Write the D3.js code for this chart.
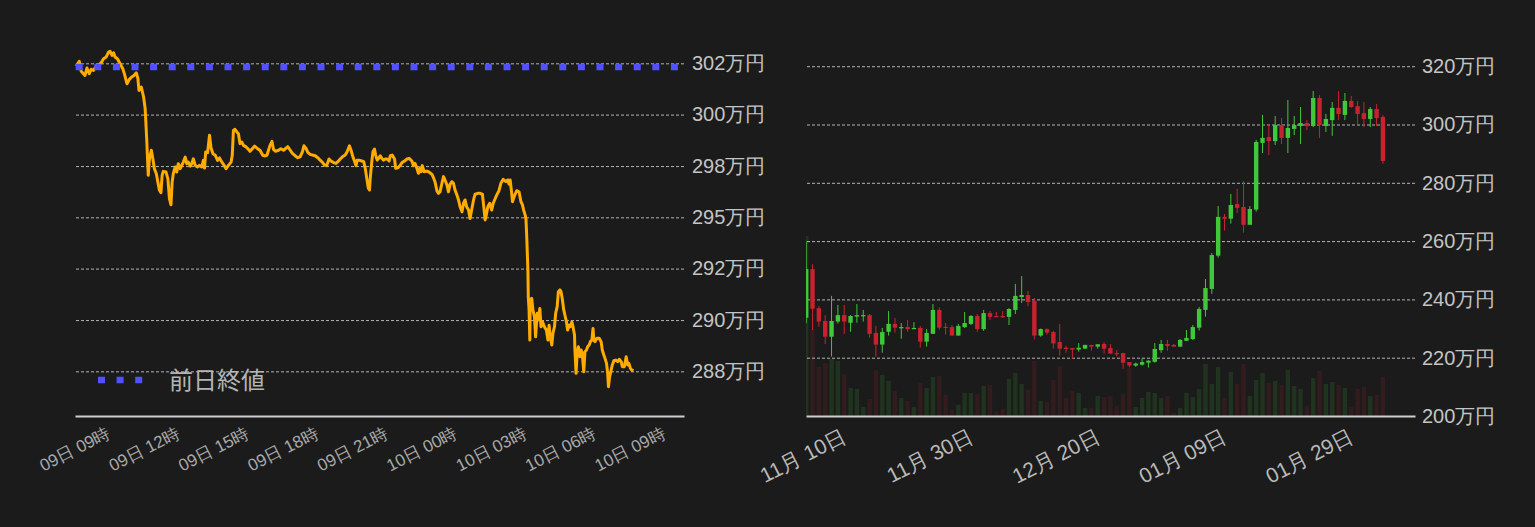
<!DOCTYPE html>
<html>
<head>
<meta charset="utf-8">
<script src="https://cdn.jsdelivr.net/npm/d3@7"></script>
<style>
  html, body { margin: 0; background: #1b1b1b; }
  svg { display: block; font-family: "Noto Sans CJK JP", "Noto Sans", sans-serif; }
</style>
</head>
<body>
<script>
// ---- intraday (left): minutes since 09日 00:00, price in 万円
const lineMinutes = [
  457,465,470,480,485,491,496,502,509,515,522,528,535,541,545,550,554,558,564,571,
  578,582,589,595,601,607,613,617,620,626,632,636,640,644,647,652,656,660,665,669,
  673,677,680,683,690,695,699,703,706,709,714,718,722,727,731,735,740,744,748,753,
  757,761,766,772,777,783,787,790,793,798,803,807,812,818,824,829,835,841,846,852,
  859,862,865,869,874,878,882,887,891,898,904,908,914,920,926,930,934,941,947,952,
  956,960,965,969,974,982,988,995,1002,1006,1012,1018,1025,1032,1038,1044,1048,1053,1058,1064,
  1070,1077,1084,1090,1096,1101,1107,1113,1118,1124,1131,1136,1142,1148,1155,1160,1166,1170,1175,1179,
  1183,1186,1191,1198,1203,1207,1211,1215,1218,1220,1224,1227,1231,1234,1238,1242,1246,1250,1254,1259,
  1264,1269,1272,1277,1283,1286,1292,1297,1303,1309,1315,1321,1328,1332,1336,1341,1345,1349,1352,1355,
  1360,1367,1373,1380,1384,1388,1393,1397,1401,1406,1410,1414,1419,1423,1427,1432,1436,1440,1445,1449,
  1453,1458,1462,1466,1470,1475,1479,1483,1488,1492,1499,1505,1511,1515,1518,1521,1525,1530,1535,1539,
  1548,1554,1559,1565,1572,1577,1580,1583,1587,1589,1594,1600,1606,1611,1615,1618,1622,1624,1626,1629,
  1630,1632,1634,1635,1639,1642,1646,1649,1653,1656,1660,1663,1667,1670,1674,1677,1681,1684,1687,1691,
  1694,1698,1701,1705,1708,1712,1715,1718,1722,1725,1729,1732,1736,1739,1743,1746,1750,1751,1754,1757,
  1760,1764,1767,1770,1774,1777,1781,1784,1788,1791,1795,1798,1800,1803,1808,1814,1819,1822,1826,1829,
  1833,1836,1838,1841,1845,1848,1852,1857,1862,1866,1871,1874,1879,1884,1888,1891,1895,1898,1903
]
const linePrices = [
  301.88,302.09,301.64,301.45,301.79,301.53,301.73,301.68,301.88,301.91,302.03,302.21,302.29,302.51,302.55,302.36,302.48,302.29,302.21,301.98,
  301.75,301.53,301.07,301.27,301.38,301.45,301.57,301.33,300.77,300.92,300.47,299.94,298.57,296.91,297.66,298.05,297.66,297.21,296.98,296.60,
  296.23,296.12,296.91,297.09,297.06,296.75,295.85,295.57,296.60,296.98,297.29,297.06,297.44,297.21,297.36,297.51,297.74,297.44,297.51,297.33,
  297.44,297.66,297.36,297.29,297.36,297.29,297.59,297.24,297.97,297.94,298.73,298.15,297.89,297.82,297.59,297.70,297.51,297.36,297.21,297.36,
  297.51,297.82,298.95,299.00,298.88,298.80,298.35,298.42,298.27,298.20,298.09,298.00,298.12,298.24,298.15,298.09,298.05,297.82,297.79,297.82,
  298.05,298.27,298.45,298.09,298.00,298.05,298.12,298.05,298.15,298.21,298.06,297.91,297.80,297.71,297.75,297.98,298.25,298.14,297.95,297.86,
  297.83,297.80,297.71,297.60,297.50,297.38,297.35,297.65,297.56,297.50,297.45,297.53,297.65,297.75,297.83,297.98,298.25,298.06,297.75,297.56,
  297.35,297.60,297.60,297.56,297.53,297.23,296.77,296.32,296.24,296.77,297.53,297.98,298.10,297.83,297.60,297.68,297.80,297.68,297.60,297.65,
  297.65,297.56,297.80,297.83,297.65,297.23,297.25,297.35,297.50,297.56,297.65,297.68,297.56,297.35,297.45,297.23,297.00,297.25,297.07,297.35,
  297.07,297.10,297.05,296.95,296.80,296.62,296.20,296.09,296.16,296.55,296.85,296.70,296.47,296.16,296.50,296.62,296.55,296.24,296.01,295.79,
  295.48,295.25,295.64,295.79,295.48,295.33,294.95,295.33,295.79,296.05,296.09,296.09,296.05,295.41,294.88,295.10,295.48,295.64,295.33,295.64,
  296.01,296.21,296.55,296.73,296.62,296.70,296.51,296.70,296.09,295.71,295.97,296.21,296.16,295.71,295.56,295.33,295.10,294.91,294.12,292.60,
  291.39,290.79,289.42,291.24,291.32,290.79,290.48,289.57,290.64,290.33,290.86,290.03,290.25,290.10,289.95,289.88,289.42,290.10,289.57,289.20,
  289.73,290.03,290.64,290.94,291.62,291.70,291.62,291.32,290.79,290.56,290.25,289.88,290.10,290.03,290.25,290.03,289.65,288.97,287.91,288.89,
  289.12,288.66,288.97,288.82,287.98,288.89,288.97,289.12,289.20,289.35,289.42,289.95,289.42,289.35,289.50,289.50,289.35,288.97,288.74,288.59,
  288.36,287.91,287.30,287.75,288.06,288.29,288.48,288.51,288.44,288.55,288.44,288.21,288.21,288.66,288.29,288.36,288.14,288.06,288.03
]
const prevClose = 301.83
const lineTicks = [288, 290.33, 292.67, 295, 297.33, 299.67, 302]
const lineTickLabels = ["288万円", "290万円", "292万円", "295万円", "298万円", "300万円", "302万円"]
const legendLabel = "前日終値"

// ---- daily candles (right): first candle 11/04, one per day, 万円
const candleOpen = [
  233.7,250.4,237.0,232.6,227.2,232.4,234.6,232.0,234.1,234.4,234.6,228.5,224.5,228.9,231.6,230.3,230.5,230.0,230.2,225.5,
  228.2,236.4,230.6,230.5,227.6,230.5,231.6,234.3,229.8,235.3,234.3,234.3,234.0,236.4,240.8,241.5,239.5,227.6,229.8,228.8,
  225.4,223.4,223.3,222.8,223.1,224.4,223.8,224.7,223.3,221.6,221.6,218.5,217.3,217.6,218.3,218.6,222.6,224.7,224.4,223.8,
  225.8,226.4,230.3,236.4,243.6,255.0,268.3,267.7,272.7,271.7,265.6,270.8,293.7,295.7,294.3,299.8,295.4,298.5,299.5,300.5,
  299.5,309.1,299.5,301.5,305.7,303.3,308.1,306.3,303.9,301.9,305.3,302.6
]
const candleHigh = [
  259.9,252.1,237.7,234.6,241.2,238.1,238.1,234.6,238.4,236.4,235.0,230.9,230.2,236.0,233.6,231.9,232.9,232.2,230.9,229.8,
  238.4,237.3,231.9,231.2,231.6,235.7,234.6,235.0,236.4,236.0,235.7,236.0,237.0,245.3,248.0,242.9,240.5,230.0,230.0,229.2,
  231.6,224.0,223.3,225.0,224.4,224.4,224.6,225.4,224.7,222.6,221.6,218.5,218.3,219.7,219.0,225.0,226.1,226.1,224.7,226.4,
  229.5,231.2,237.4,247.0,255.9,272.0,269.3,276.2,277.9,280.6,272.0,294.7,303.3,300.2,302.9,302.2,308.4,302.9,306.0,301.5,
  311.5,310.1,303.6,307.7,311.5,310.8,309.8,308.1,307.7,306.0,307.0,303.3
]
const candleLow = [
  231.8,229.5,230.6,224.7,220.4,231.7,228.1,228.9,232.0,232.4,226.9,220.4,221.7,227.6,228.6,226.5,228.9,229.8,223.4,223.8,
  228.2,229.6,227.9,227.6,227.6,230.2,231.2,228.9,229.2,232.9,234.0,233.6,231.2,235.0,238.8,237.7,226.2,227.2,227.9,223.1,
  220.7,221.7,219.7,222.1,223.1,222.4,223.1,221.4,221.4,220.4,216.2,216.7,216.9,217.3,216.6,218.3,221.7,222.4,223.8,223.8,
  225.8,226.1,229.3,234.1,241.9,254.3,263.6,266.0,269.6,262.9,265.6,270.1,290.2,289.5,293.0,293.3,290.2,296.4,293.3,298.1,
  299.1,295.4,297.4,296.1,301.5,301.5,305.7,300.2,299.1,299.1,299.5,286.5
]
const candleClose = [
  250.4,236.8,232.4,227.2,232.6,234.6,232.4,234.3,234.6,234.6,228.2,224.5,228.8,231.6,230.3,230.5,229.8,230.2,225.5,228.5,
  236.4,230.3,230.3,227.6,230.9,231.9,234.3,229.8,235.3,234.0,234.1,234.1,236.7,241.2,241.5,239.1,227.6,229.8,228.6,224.9,
  223.1,223.2,222.8,223.4,224.4,223.8,224.6,223.1,221.4,221.4,218.3,217.3,218.0,218.5,219.0,223.0,224.7,224.0,223.8,226.1,
  226.8,230.5,236.7,243.9,255.2,268.3,267.7,272.4,271.4,265.6,271.0,294.0,295.4,294.3,299.8,295.4,298.8,299.8,300.5,299.5,
  309.1,299.8,301.9,305.7,303.6,308.1,306.0,303.6,301.9,305.3,302.2,287.5
]
const volumes = [
  180,87,49,53,57,55,42,28,27,9,17,46,41,35,25,18,15,9,33,28,
  39,40,21,6,11,23,23,22,30,31,4,7,37,43,32,26,55,15,14,36,
  50,18,25,23,8,8,20,19,20,10,22,48,9,18,24,23,18,20,3,8,
  23,19,27,52,32,49,18,44,32,52,20,36,43,33,35,31,46,30,27,10,
  38,45,32,34,31,28,9,27,29,20,21,39
]
const candleTicks = ["2020-11-10", "2020-11-30", "2020-12-20", "2021-01-09", "2021-01-29"]
const candleYTicks = [200, 220, 240, 260, 280, 300, 320]


const width = 1535, height = 527
const up = "#3fc83a", down = "#c9222f"

let canvas = d3.select("body")
                .append("svg")
                .attr("id", "canvas")
                .attr("width", width)
                .attr("height", height)

canvas.append("rect")
      .attr("id", "bg")
      .attr("width", width)
      .attr("height", height)
      .attr("fill", "#1b1b1b")

const defs = canvas.append("defs")

// layers, bottom to top
const gVol = canvas.append("g").attr("class", "volume").attr("clip-path", "url(#candleClip)")
const gGrids = canvas.append("g").attr("class", "grids")
const gMarks = canvas.append("g").attr("class", "marks")
const gAxes = canvas.append("g").attr("class", "axes")

// ================= left: intraday line =================
const L = { left: 75, right: 684, top: 40, bottom: 416 }
const dayStart = new Date(2021, 1, 9)
const lineData = lineMinutes.map((m, i) => ({ t: d3.timeMinute.offset(dayStart, m), p: linePrices[i] }))

const xLine = d3.scaleTime()
                .domain([d3.timeMinute.offset(dayStart, 454), d3.timeMinute.offset(dayStart, 2034)])
                .range([L.left, L.right])
const yLine = d3.scaleLinear()
                .domain([285.97, 303.06])
                .range([L.bottom, L.top])

gGrids.append("g")
      .attr("class", "grid")
      .attr("transform", `translate(${L.right},0)`)
      .call(d3.axisRight(yLine)
              .tickValues(lineTicks)
              .tickSize(-(L.right - L.left))
              .tickPadding(8)
              .tickFormat((d, i) => lineTickLabels[i]))

gAxes.append("g")
     .attr("class", "xaxis left")
     .attr("transform", `translate(0,${L.bottom})`)
     .call(d3.axisBottom(xLine)
             .ticks(d3.timeHour.every(3))
             .tickSize(0)
             .tickSizeOuter(0)
             .tickFormat(d3.timeFormat("%d日 %H時")))

gMarks.append("path")
      .datum(lineData)
      .attr("fill", "none")
      .attr("stroke", "#ffab00")
      .attr("stroke-width", 3)
      .attr("stroke-linejoin", "round")
      .attr("d", d3.line().x(d => xLine(d.t)).y(d => yLine(d.p)))

// previous close, square dots
const dotted = "7 11.6"
gMarks.append("line")
      .attr("x1", L.left + 0.7).attr("x2", L.right)
      .attr("y1", yLine(prevClose)).attr("y2", yLine(prevClose))
      .attr("stroke", "#5151ff")
      .attr("stroke-width", 6.5)
      .attr("stroke-dasharray", dotted)

const legend = gAxes.append("g").attr("class", "legend")
legend.append("line")
      .attr("x1", 98).attr("x2", 143)
      .attr("y1", 380).attr("y2", 380)
      .attr("stroke", "#5151ff")
      .attr("stroke-width", 6.5)
      .attr("stroke-dasharray", dotted)
legend.append("text")
      .attr("x", 169).attr("y", 389)
      .attr("fill", "#b4b4b4")
      .attr("font-size", 24)
      .text(legendLabel)

// ================= right: daily candles =================
const R = { left: 806, right: 1415, top: 40, bottom: 416 }
const candleStart = new Date(2020, 10, 4)
const day = 864e5
const candles = candleOpen.map((o, i) => ({
  date: d3.timeDay.offset(candleStart, i),
  open: o, high: candleHigh[i], low: candleLow[i], close: candleClose[i], vol: volumes[i]
}))

const xCandle = d3.scaleTime()
                .domain([new Date(+candleStart - 0.032 * day), new Date(+candleStart + 96.06 * day)])
                .range([R.left, R.right])
const yCandle = d3.scaleLinear()
                .domain([200, 328.99])
                .range([R.bottom, R.top])
const yVol = d3.scaleLinear()
                .domain([0, d3.max(volumes)])
                .range([R.bottom, R.bottom - 180])

defs.append("clipPath")
    .attr("id", "candleClip")
  .append("rect")
    .attr("x", R.left).attr("y", R.top)
    .attr("width", R.right - R.left).attr("height", R.bottom - R.top)

const bw = 4.4

gVol.selectAll("rect")
    .data(candles)
    .join("rect")
      .attr("x", d => xCandle(d.date) - bw / 2)
      .attr("width", bw)
      .attr("y", d => yVol(d.vol))
      .attr("height", d => yVol(0) - yVol(d.vol))
      .attr("fill", d => d.close >= d.open ? up : down)
      .attr("fill-opacity", 0.14)

gGrids.append("g")
      .attr("class", "grid")
      .attr("transform", `translate(${R.right},0)`)
      .call(d3.axisRight(yCandle)
              .tickValues(candleYTicks)
              .tickSize(-(R.right - R.left))
              .tickPadding(7)
              .tickFormat(d => d + "万円"))

const parseDay = d3.timeParse("%Y-%m-%d")
gAxes.append("g")
     .attr("class", "xaxis right")
     .attr("transform", `translate(0,${R.bottom})`)
     .call(d3.axisBottom(xCandle)
             .tickValues(candleTicks.map(parseDay))
             .tickSize(0)
             .tickSizeOuter(0)
             .tickFormat(d3.timeFormat("%m月 %d日")))

const candle = gMarks.append("g")
    .attr("class", "candles")
    .attr("clip-path", "url(#candleClip)")
  .selectAll("g")
  .data(candles)
  .join("g")
    .attr("stroke", d => d.close >= d.open ? up : down)
    .attr("fill", d => d.close >= d.open ? up : down)
candle.append("line")
      .attr("x1", d => xCandle(d.date)).attr("x2", d => xCandle(d.date))
      .attr("y1", d => yCandle(d.high)).attr("y2", d => yCandle(d.low))
      .attr("stroke-width", 1)
candle.append("rect")
      .attr("stroke", "none")
      .attr("x", d => xCandle(d.date) - bw / 2)
      .attr("width", bw)
      .attr("y", d => yCandle(Math.max(d.open, d.close)))
      .attr("height", d => Math.max(1.2, Math.abs(yCandle(d.open) - yCandle(d.close))))

// ================= shared axis styling =================
gGrids.selectAll(".domain").remove()
gGrids.selectAll(".tick line")
      .attr("stroke", "#b4b4b4")
      .attr("stroke-width", 1)
      .attr("stroke-dasharray", "3 2")
gGrids.selectAll(".tick text")
      .attr("fill", "#c4c4c4")
      .attr("font-size", 20)
      .attr("font-family", null)

gAxes.selectAll(".xaxis .domain")
     .attr("stroke", "#cfcfcf")
     .attr("stroke-width", 2)

gAxes.selectAll(".xaxis.left text")
     .attr("fill", "#a9a9a9")
     .attr("font-size", 17)
     .attr("font-family", null)
     .attr("text-anchor", "end")
     .attr("x", 0).attr("y", 0).attr("dy", 0)
     .attr("transform", "translate(3,21) rotate(-27)")

gAxes.selectAll(".xaxis.right text")
     .attr("fill", "#b9b9b9")
     .attr("font-size", 21)
     .attr("font-family", null)
     .attr("text-anchor", "end")
     .attr("x", 0).attr("y", 0).attr("dy", 0)
     .attr("transform", "translate(3,25) rotate(-27)")
</script>
</body>
</html>
